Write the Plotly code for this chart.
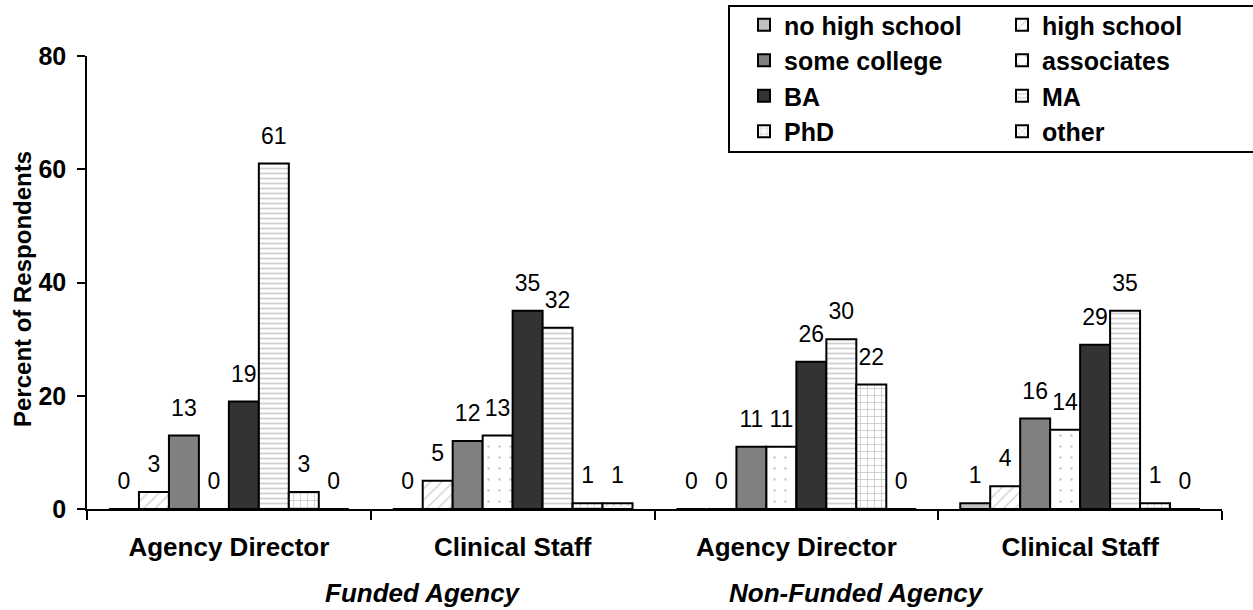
import plotly.graph_objects as go

# Respondent groups (x categories)
agency_type = ["Funded Agency", "Funded Agency", "Non-Funded Agency", "Non-Funded Agency"]
role = ["Agency Director", "Clinical Staff", "Agency Director", "Clinical Staff"]

# Percent of respondents by highest education level
no_high_school = [0, 0, 0, 1]
high_school = [3, 5, 0, 4]
some_college = [13, 12, 11, 16]
associates = [0, 13, 11, 14]
ba = [19, 35, 26, 29]
ma = [61, 32, 30, 35]
phd = [3, 1, 22, 1]
other = [0, 1, 0, 0]

y_ticks = [0, 20, 40, 60, 80]

FONT = "Liberation Sans, Arial, sans-serif"
W, H = 1253, 610

series = [
    ("no high school", no_high_school, dict(color="#c0c0c0")),
    ("high school", high_school, dict(color="white", pattern=dict(shape="/", fgcolor="#9a9a9a", bgcolor="white", size=8, solidity=0.15))),
    ("some college", some_college, dict(color="#808080")),
    ("associates", associates, dict(color="white", pattern=dict(shape=".", fgcolor="#8c8c8c", bgcolor="white", size=11, solidity=0.04))),
    ("BA", ba, dict(color="#333333")),
    ("MA", ma, dict(color="white", pattern=dict(shape="-", fgcolor="#a0a0a0", bgcolor="white", size=5, solidity=0.35))),
    ("PhD", phd, dict(color="white", pattern=dict(shape="+", fgcolor="#858585", bgcolor="white", size=7, solidity=0.2))),
    ("other", other, dict(color="white", pattern=dict(shape="x", fgcolor="#a0a0a0", bgcolor="white", size=5, solidity=0.3))),
]

keys = [f"{a} | {r}" for a, r in zip(agency_type, role)]
alias = {k: r for k, r in zip(keys, role)}

GAP = 0.155

fig = go.Figure()
for i, (name, vals, marker) in enumerate(series):
    fig.add_trace(go.Bar(
        name=name, x=keys, y=vals,
        marker=dict(line=dict(color="black", width=2), **marker),
        legend="legend" if i % 2 == 0 else "legend2",
        hoverinfo="skip",
    ))

# value labels, grouped to sit over their bars
for name, vals, _ in series:
    fig.add_trace(go.Scatter(
        x=keys, y=vals, mode="markers+text",
        text=[str(v) for v in vals], textposition="top center",
        textfont=dict(family=FONT, size=23, color="black"),
        marker=dict(size=21, opacity=0),
        showlegend=False, hoverinfo="skip", cliponaxis=False,
    ))

legend_font = dict(family=FONT, size=25, color="black", weight="bold")
legend_common = dict(
    xref="container", yref="container", xanchor="left", yanchor="top",
    y=1 - 2 / H, bgcolor="rgba(0,0,0,0)", borderwidth=0,
    font=legend_font, tracegroupgap=0,
)

fig.update_layout(
    width=W, height=H,
    margin=dict(l=87, r=31, t=56, b=101, autoexpand=False),
    plot_bgcolor="white", paper_bgcolor="white",
    barmode="group", bargap=GAP, bargroupgap=0,
    scattermode="group", scattergap=GAP,
    font=dict(family=FONT, color="black"),
    showlegend=True,
    legend=dict(x=744 / W, **legend_common),
    legend2=dict(x=1002 / W, **legend_common),
    xaxis=dict(
        type="category", labelalias=alias,
        tickson="boundaries", ticks="outside", ticklen=9, tickwidth=1.5, tickcolor="black",
        showline=True, linecolor="black", linewidth=1.5, showgrid=False,
        tickfont=dict(family=FONT, size=26, color="black", weight="bold"),
        ticklabelstandoff=14,
    ),
    yaxis=dict(
        range=[0, 80], tickvals=y_ticks,
        ticks="outside", ticklen=8, tickwidth=1.5, tickcolor="black",
        showline=True, linecolor="black", linewidth=1.5,
        showgrid=False, zeroline=False,
        tickfont=dict(family=FONT, size=25, color="black", weight="bold"),
        ticklabelstandoff=6,
    ),
    shapes=[dict(
        type="rect", xref="paper", yref="paper",
        x0=(729 - 87) / 1135, x1=(1262 - 87) / 1135,
        y0=(509 - 152) / 453, y1=(509 - 6) / 453,
        line=dict(color="black", width=2), fillcolor="rgba(0,0,0,0)", layer="below",
    )],
    annotations=[
        dict(text="Percent of Respondents", xref="paper", yref="paper",
             x=(22 - 87) / 1135, y=(509 - 289) / 453, xanchor="center", yanchor="middle",
             textangle=-90, showarrow=False,
             font=dict(family=FONT, size=24, color="black", weight="bold")),
        dict(text="<i>Funded Agency</i>", xref="paper", yref="paper",
             x=(423 - 87) / 1135, y=(509 - 593) / 453, xanchor="center", yanchor="middle",
             showarrow=False, font=dict(family=FONT, size=26, color="black", weight="bold")),
        dict(text="<i>Non-Funded Agency</i>", xref="paper", yref="paper",
             x=(856 - 87) / 1135, y=(509 - 593) / 453, xanchor="center", yanchor="middle",
             showarrow=False, font=dict(family=FONT, size=26, color="black", weight="bold")),
    ],
)

fig.write_html("out.html")
